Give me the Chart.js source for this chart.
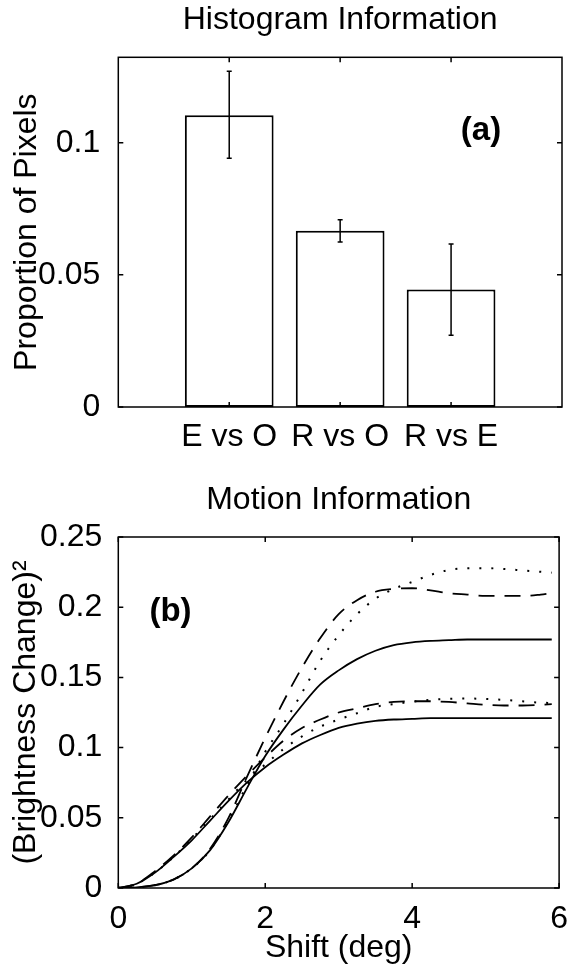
<!DOCTYPE html>
<html><head><meta charset="utf-8">
<script src="https://cdn.jsdelivr.net/npm/chart.js@4/dist/chart.umd.min.js"></script>
<style>
html,body{margin:0;padding:0;background:#fff;overflow:hidden;}
#c1{position:absolute;left:0;top:0;}
#c2{position:absolute;left:0;top:460px;}
</style></head><body>
<canvas id="c1" width="572" height="460"></canvas>
<canvas id="c2" width="572" height="510"></canvas>
<script>
// ---------- Panel (a): histogram information ----------
const categories = ['E vs O', 'R vs O', 'R vs E'];
const proportion = [0.1104, 0.0667, 0.0445];
const errLow  = [0.0941, 0.0624, 0.0271];
const errHigh = [0.1270, 0.0708, 0.0617];
const histYTicks = [0, 0.05, 0.1];
const histYTickLabels = ['0', '0.05', '0.1'];

// ---------- Panel (b): motion information ----------
const shift = [0, 0.25, 0.5, 0.75, 1, 1.25, 1.5, 1.75, 2, 2.25, 2.5, 2.75, 3, 3.25, 3.5, 3.75, 4, 4.25, 4.5, 4.75, 5, 5.25, 5.5, 5.75, 5.9];
const upperSolid  = [0, 0.0005, 0.002, 0.006, 0.014, 0.027, 0.047, 0.071, 0.094, 0.113, 0.130, 0.145, 0.155, 0.163, 0.169, 0.173, 0.175, 0.176, 0.1765, 0.177, 0.177, 0.177, 0.177, 0.177, 0.177];
const upperDashed = [0, 0.0005, 0.002, 0.006, 0.014, 0.028, 0.050, 0.079, 0.107, 0.133, 0.157, 0.178, 0.195, 0.205, 0.211, 0.213, 0.2135, 0.212, 0.210, 0.209, 0.208, 0.208, 0.208, 0.209, 0.210];
const upperDotted = [0, 0.0005, 0.002, 0.006, 0.014, 0.027, 0.048, 0.073, 0.097, 0.117, 0.139, 0.162, 0.180, 0.195, 0.206, 0.213, 0.218, 0.223, 0.2265, 0.2277, 0.2278, 0.2272, 0.2262, 0.2252, 0.2246];
const lowerSolid  = [0, 0.003, 0.011, 0.022, 0.034, 0.048, 0.062, 0.075, 0.086, 0.095, 0.103, 0.109, 0.114, 0.117, 0.119, 0.120, 0.1205, 0.121, 0.121, 0.121, 0.121, 0.121, 0.121, 0.121, 0.121];
const lowerDashed = [0, 0.003, 0.012, 0.023, 0.036, 0.051, 0.066, 0.080, 0.093, 0.105, 0.114, 0.120, 0.125, 0.128, 0.131, 0.1325, 0.133, 0.133, 0.1325, 0.1315, 0.1305, 0.130, 0.130, 0.1305, 0.131];
const lowerDotted = [0, 0.003, 0.011, 0.022, 0.035, 0.049, 0.063, 0.077, 0.088, 0.099, 0.108, 0.115, 0.120, 0.1245, 0.129, 0.131, 0.1327, 0.134, 0.1347, 0.135, 0.1346, 0.134, 0.133, 0.132, 0.1318];
const motionXTicks = [0, 2, 4, 6];
const motionXTickLabels = ['0', '2', '4', '6'];
const motionYTicks = [0, 0.05, 0.1, 0.15, 0.2, 0.25];
const motionYTickLabels = ['0', '0.05', '0.1', '0.15', '0.2', '0.25'];

// panel tags (data coordinates)
const tagA = {text: '(a)', x: 3.27, y: 0.1044};
const tagB = {text: '(b)', x: 0.71, y: 0.1966};

const FONT = '"Liberation Sans", Arial, Helvetica, sans-serif';
const FS = 32;
Chart.defaults.font.family = FONT;
Chart.defaults.color = '#000';

const framePlugin = {
  id: 'frame',
  afterDatasetsDraw(chart) {
    const {ctx, chartArea: {left, right, top, bottom}, scales} = chart;
    const L = 5;
    ctx.save();
    ctx.strokeStyle = '#000';
    ctx.lineWidth = 1.5;
    ctx.strokeRect(left, top, right - left, bottom - top);
    ctx.beginPath();
    scales.x.ticks.forEach(t => {
      const p = scales.x.getPixelForValue(t.value);
      ctx.moveTo(p, bottom); ctx.lineTo(p, bottom - L);
      ctx.moveTo(p, top); ctx.lineTo(p, top + L);
    });
    scales.y.ticks.forEach(t => {
      const p = scales.y.getPixelForValue(t.value);
      ctx.moveTo(left, p); ctx.lineTo(left + L, p);
      ctx.moveTo(right, p); ctx.lineTo(right - L, p);
    });
    ctx.stroke();
    ctx.restore();
  }
};

function textPlugin(tag, title) {
  return {
    id: 'texts',
    afterDatasetsDraw(chart) {
      const {ctx, scales, chartArea} = chart;
      ctx.save();
      ctx.fillStyle = '#000';
      ctx.textAlign = 'center';
      ctx.textBaseline = 'middle';
      ctx.font = 'bold 33px ' + FONT;
      ctx.fillText(tag.text, scales.x.getPixelForValue(tag.x), scales.y.getPixelForValue(tag.y));
      ctx.font = FS + 'px ' + FONT;
      ctx.fillText(title, (chartArea.left + chartArea.right) / 2, chartArea.top - 37);
      ctx.restore();
    }
  };
}

const errorBarPlugin = {
  id: 'errbars',
  afterDatasetsDraw(chart) {
    const {ctx, scales} = chart;
    ctx.save();
    ctx.strokeStyle = '#000';
    ctx.lineWidth = 1.5;
    ctx.beginPath();
    categories.forEach((c, i) => {
      const x = scales.x.getPixelForValue(i + 1);
      const yl = scales.y.getPixelForValue(errLow[i]);
      const yh = scales.y.getPixelForValue(errHigh[i]);
      ctx.moveTo(x, yl); ctx.lineTo(x, yh);
      ctx.moveTo(x - 2.5, yl); ctx.lineTo(x + 2.5, yl);
      ctx.moveTo(x - 2.5, yh); ctx.lineTo(x + 2.5, yh);
    });
    ctx.stroke();
    ctx.restore();
  }
};

new Chart(document.getElementById('c1'), {
  type: 'bar',
  data: {
    datasets: [{
      data: categories.map((c, i) => ({x: i + 1, y: proportion[i]})),
      backgroundColor: '#fff',
      borderColor: '#000',
      borderWidth: 2,
      borderSkipped: false,
      barPercentage: 0.8,
      categoryPercentage: 1
    }]
  },
  options: {
    responsive: false, animation: false, devicePixelRatio: 1,
    layout: {padding: {left: 0, right: 10, top: 57.3, bottom: 0}},
    plugins: {legend: {display: false}, tooltip: {enabled: false}, title: {display: false}},
    scales: {
      x: {
        type: 'linear', min: 0, max: 4, offset: false,
        grid: {display: false}, border: {display: false},
        afterBuildTicks: s => { s.ticks = categories.map((c, i) => ({value: i + 1})); },
        afterFit: s => { s.height = 53; },
        ticks: {callback: v => categories[v - 1], font: {size: FS}, color: '#000', padding: 3, maxRotation: 0, autoSkip: false}
      },
      y: {
        min: 0, max: 0.1323,
        grid: {display: false}, border: {display: false},
        afterBuildTicks: s => { s.ticks = histYTicks.map(v => ({value: v})); },
        afterFit: s => { s.width = 118.3; },
        ticks: {callback: (v, i) => histYTickLabels[i], font: {size: FS}, color: '#000', padding: 10},
        title: {display: true, text: 'Proportion of Pixels', color: '#000', font: {size: FS}, padding: {top: 8, bottom: 0}}
      }
    }
  },
  plugins: [framePlugin, errorBarPlugin, textPlugin(tagA, 'Histogram Information')]
});

function series(arr, dash, width) {
  return {
    data: shift.map((x, i) => ({x: x, y: arr[i]})),
    borderColor: '#000', backgroundColor: '#000',
    borderWidth: width, borderDash: dash, borderCapStyle: 'butt',
    pointRadius: 0, fill: false, cubicInterpolationMode: 'monotone'
  };
}

new Chart(document.getElementById('c2'), {
  type: 'line',
  data: {
    datasets: [
      series(upperSolid, [], 1.8),
      series(upperDashed, [16, 10], 1.8),
      series(upperDotted, [2, 10], 2),
      series(lowerSolid, [], 1.8),
      series(lowerDashed, [16, 10], 1.8),
      series(lowerDotted, [2, 10], 2)
    ]
  },
  options: {
    responsive: false, animation: false, devicePixelRatio: 1,
    layout: {padding: {left: 0, right: 9.7, top: 77, bottom: 0}},
    plugins: {legend: {display: false}, tooltip: {enabled: false}, title: {display: false}},
    scales: {
      x: {
        type: 'linear', min: 0, max: 6,
        grid: {display: false}, border: {display: false},
        afterBuildTicks: s => { s.ticks = motionXTicks.map(v => ({value: v})); },
        afterFit: s => { s.height = 82; },
        ticks: {callback: (v, i) => motionXTickLabels[i], font: {size: FS}, color: '#000', padding: 4, maxRotation: 0, autoSkip: false},
        title: {display: true, text: 'Shift (deg)', color: '#000', font: {size: FS}, padding: {top: 0, bottom: 3}}
      },
      y: {
        min: 0, max: 0.25,
        grid: {display: false}, border: {display: false},
        afterBuildTicks: s => { s.ticks = motionYTicks.map(v => ({value: v})); },
        afterFit: s => { s.width = 118.3; },
        ticks: {callback: (v, i) => motionYTickLabels[i], font: {size: FS}, color: '#000', padding: 8},
        title: {display: true, text: '(Brightness Change)²', color: '#000', font: {size: FS}, padding: {top: 7, bottom: 0}}
      }
    }
  },
  plugins: [framePlugin, textPlugin(tagB, 'Motion Information')]
});
</script>
</body></html>
